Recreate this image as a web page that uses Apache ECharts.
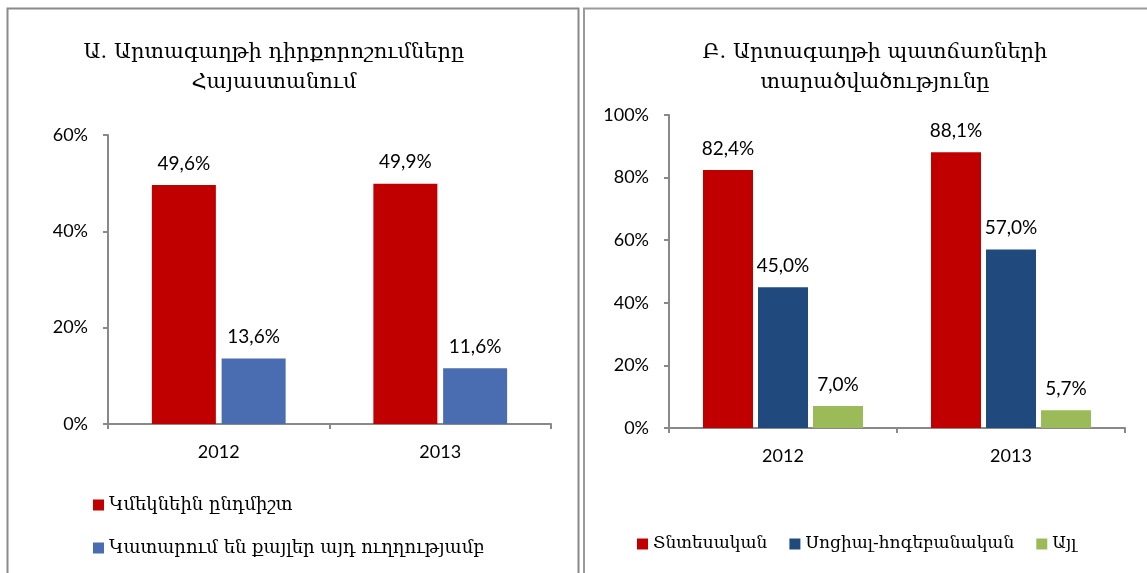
<!DOCTYPE html>
<html>
<head>
<meta charset="utf-8">
<script src="https://cdn.jsdelivr.net/npm/echarts@6/dist/echarts.min.js"></script>
<style>
  html, body { margin: 0; padding: 0; background: #fff; }
  #chart { width: 1147px; height: 573px; }
</style>
</head>
<body>
<div id="chart"></div>
<script>
// left panel: attitudes toward emigration
const yearsA = ['2012', '2013']
const leaveForever = [49.6, 49.9]
const takingSteps = [13.6, 11.6]
const namesA = ['Կմեկնեին ընդմիշտ', 'Կատարում են քայլեր այդ ուղղությամբ']

// right panel: reasons for emigration
const yearsB = ['2012', '2013']
const economic = [82.4, 88.1]
const socialPsych = [45.0, 57.0]
const other = [7.0, 5.7]
const namesB = ['Տնտեսական', 'Սոցիալ-հոգեբանական', 'Այլ']

const titleA = 'Ա. Արտագաղթի դիրքորոշումները\nՀայաստանում'
const titleB = 'Բ. Արտագաղթի պատճառների\nտարածվածությունը'

const numFont = 'Lato, "Open Sans", sans-serif'
const armFont = '"DejaVu Serif", serif'
const axisColor = '#898989'

const pct = (p) => p.value.toFixed(1).replace('.', ',') + '%'

const barLabel = {
  show: true,
  position: 'top',
  distance: 12,
  color: '#000',
  fontFamily: numFont,
  fontSize: 19,
  formatter: pct,
}

const makeX = (gridIndex, data) => ({
  type: 'category',
  gridIndex,
  data,
  axisLine: { lineStyle: { color: axisColor, width: 2 } },
  axisTick: { show: true, length: 5, lineStyle: { color: axisColor, width: 2 } },
  axisLabel: { color: '#000', fontFamily: numFont, fontSize: 18, margin: 19 },
  splitLine: { show: false },
})

const makeY = (gridIndex, max) => ({
  type: 'value',
  gridIndex,
  min: 0,
  max,
  interval: 20,
  axisLine: { show: true, lineStyle: { color: axisColor, width: 2 } },
  axisTick: { show: true, length: 5, lineStyle: { color: axisColor, width: 2 } },
  axisLabel: { color: '#000', fontFamily: numFont, fontSize: 18, margin: 20, formatter: '{value}%' },
  splitLine: { show: false },
})

const chart = echarts.init(document.getElementById('chart'))

chart.setOption({
  animation: false,
  backgroundColor: '#fff',
  title: [
    {
      text: titleA,
      left: 269,
      top: 33,
      textAlign: 'center',
      textStyle: { fontFamily: armFont, fontSize: 21, fontWeight: 'normal', color: '#000', lineHeight: 30, align: 'center' },
    },
    {
      text: titleB,
      left: 870,
      top: 33,
      textAlign: 'center',
      textStyle: { fontFamily: armFont, fontSize: 21, fontWeight: 'normal', color: '#000', lineHeight: 30, align: 'center' },
    },
  ],
  legend: [
    {
      data: namesA,
      orient: 'vertical',
      left: 88,
      top: 490,
      itemWidth: 11,
      itemHeight: 11,
      itemGap: 23,
      itemStyle: { borderWidth: 0 },
      icon: 'rect',
      textStyle: { fontFamily: armFont, fontSize: 18, color: '#000', lineHeight: 20 },
    },
    {
      data: namesB,
      orient: 'horizontal',
      left: 632,
      top: 529,
      itemWidth: 11,
      itemHeight: 11,
      itemGap: 22,
      itemStyle: { borderWidth: 0 },
      icon: 'rect',
      textStyle: { fontFamily: armFont, fontSize: 17, color: '#000', lineHeight: 20 },
    },
  ],
  grid: [
    { left: 108, right: 596, top: 135, bottom: 149 },
    { left: 669, right: 22, top: 115, bottom: 145 },
  ],
  xAxis: [makeX(0, yearsA), makeX(1, yearsB)],
  yAxis: [makeY(0, 60), makeY(1, 100)],
  series: [
    {
      name: namesA[0], type: 'bar', xAxisIndex: 0, yAxisIndex: 0,
      data: leaveForever, barWidth: 64, barGap: '9%',
      itemStyle: { color: '#C00000' }, label: barLabel,
    },
    {
      name: namesA[1], type: 'bar', xAxisIndex: 0, yAxisIndex: 0,
      data: takingSteps, barWidth: 64, barGap: '9%',
      itemStyle: { color: '#4A6DB1' }, label: barLabel,
    },
    {
      name: namesB[0], type: 'bar', xAxisIndex: 1, yAxisIndex: 1,
      data: economic, barWidth: 50, barGap: '10%',
      itemStyle: { color: '#C00000' }, label: barLabel,
    },
    {
      name: namesB[1], type: 'bar', xAxisIndex: 1, yAxisIndex: 1,
      data: socialPsych, barWidth: 50, barGap: '10%',
      itemStyle: { color: '#204A7D' }, label: barLabel,
    },
    {
      name: namesB[2], type: 'bar', xAxisIndex: 1, yAxisIndex: 1,
      data: other, barWidth: 50, barGap: '10%',
      itemStyle: { color: '#9BBB59' }, label: barLabel,
    },
  ],
  graphic: [
    // panel frames
    {
      type: 'rect', silent: true,
      shape: { x: 7.5, y: 8.5, width: 571, height: 620 },
      style: { fill: 'none', stroke: '#8a8a8a', lineWidth: 2 },
    },
    {
      type: 'rect', silent: true,
      shape: { x: 584, y: 8.5, width: 620, height: 620 },
      style: { fill: 'none', stroke: '#9a9a9a', lineWidth: 2 },
    },
  ],
})
</script>
</body>
</html>
